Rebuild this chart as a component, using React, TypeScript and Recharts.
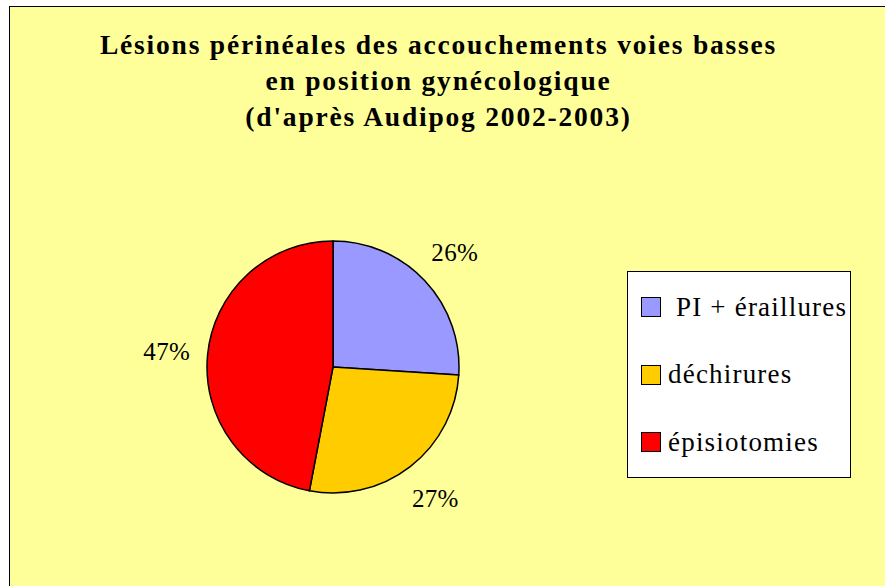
import { PieChart, Pie, Cell, Legend } from "recharts"

const labels = ["PI + éraillures", "déchirures", "épisiotomies"]
const values = [26, 27, 47]
const colors = ["#9999FF", "#FFCC00", "#FF0000"]
const titleLines = [
  "Lésions périnéales des accouchements voies basses",
  "en position gynécologique",
  "(d'après Audipog 2002-2003)",
]

const data = labels.map((name, i) => ({ name, value: values[i] }))
const total = values.reduce((a, b) => a + b, 0)
const font = "'Liberation Serif', 'Times New Roman', serif"

const RAD = Math.PI / 180

const renderLabel = (p: any) => {
  const r = p.outerRadius + 41
  const x = p.cx + r * Math.cos(-p.midAngle * RAD)
  const y = p.cy + r * Math.sin(-p.midAngle * RAD)
  return (
    <text x={x} y={y} textAnchor="middle" dominantBaseline="central" fontSize={25} fontFamily={font} fill="#000" letterSpacing={0.3}>
      {`${Math.round((p.value / total) * 100)}%`}
    </text>
  )
}

const LegendBox = () => (
  <div
    style={{
      width: 224,
      height: 207,
      boxSizing: "border-box",
      background: "#fff",
      border: "1px solid #000",
      fontFamily: font,
      fontSize: 27,
      letterSpacing: 1.2,
      position: "relative",
    }}
  >
    {data.map((d, i) => (
      <div
        key={d.name}
        style={{ position: "absolute", left: 13, top: 35 + i * 67.5 - 15, height: 30, display: "flex", alignItems: "center" }}
      >
        <span
          style={{
            display: "inline-block",
            width: 18,
            height: 18,
            background: colors[i],
            border: "1.5px solid #000",
          }}
        />
        <span style={{ marginLeft: i === 0 ? 15 : 7, whiteSpace: "nowrap" }}>{d.name}</span>
      </div>
    ))}
  </div>
)

export default function App() {
  return (
    <div
      style={{
        position: "absolute",
        left: 9,
        top: 6,
        width: 900,
        height: 600,
        background: "#FFFF99",
        border: "1px solid #000",
        overflow: "hidden",
      }}
    >
      <div
        style={{
          position: "absolute",
          left: 0,
          width: 857,
          top: 20,
          textAlign: "center",
          fontFamily: font,
          fontWeight: "bold",
          fontSize: 27.5,
          lineHeight: "36px",
          letterSpacing: 1.8,
        }}
      >
        {titleLines.map((t) => (
          <div key={t}>{t}</div>
        ))}
      </div>
      <PieChart
        width={876}
        height={580}
        margin={{ top: 0, right: 0, bottom: 0, left: 0 }}
        style={{ position: "absolute", left: 0, top: 0 }}
      >
        <Pie
          data={data}
          dataKey="value"
          nameKey="name"
          cx={323}
          cy={360}
          outerRadius={126}
          startAngle={90}
          endAngle={-270}
          stroke="#000"
          strokeWidth={1.5}
          label={renderLabel}
          labelLine={false}
          isAnimationActive={false}
        >
          {data.map((d, i) => (
            <Cell key={d.name} fill={colors[i]} />
          ))}
        </Pie>
        <Legend content={<LegendBox />} wrapperStyle={{ position: "absolute", left: 617, top: 264, width: 224 }} />
      </PieChart>
    </div>
  )
}
